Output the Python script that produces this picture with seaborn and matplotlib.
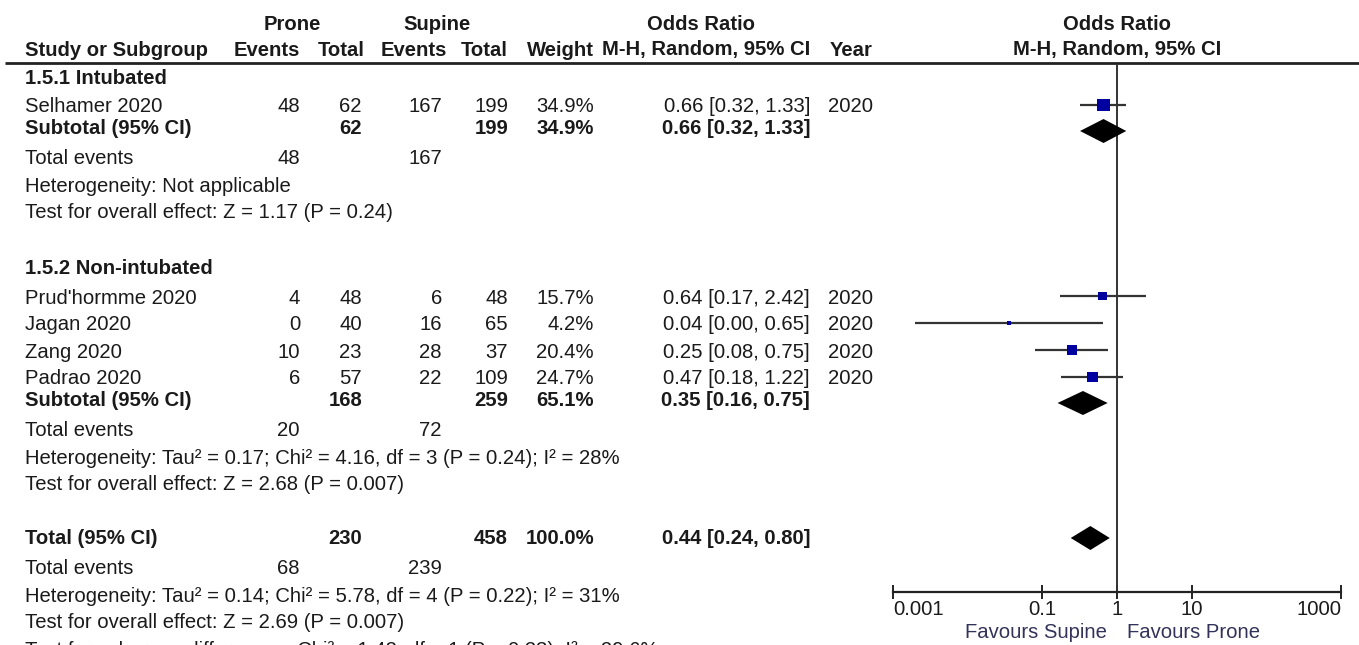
import matplotlib
matplotlib.use("Agg")
import matplotlib.pyplot as plt
import numpy as np
import pandas as pd
import seaborn as sns

# ---------------- data ----------------
studies = ["Selhamer 2020", "Prud'hormme 2020", "Jagan 2020", "Zang 2020", "Padrao 2020"]
study_group = [0, 1, 1, 1, 1]
prone_events = [48, 4, 0, 10, 6]
prone_total = [62, 48, 40, 23, 57]
supine_events = [167, 6, 16, 28, 22]
supine_total = [199, 48, 65, 37, 109]
weights = [34.9, 15.7, 4.2, 20.4, 24.7]
odds_ratio = [0.66, 0.64, 0.036, 0.25, 0.47]
ci_low = [0.32, 0.17, 0.002, 0.08, 0.18]
ci_high = [1.33, 2.42, 0.65, 0.75, 1.22]
years = [2020, 2020, 2020, 2020, 2020]

group_names = ["1.5.1 Intubated", "1.5.2 Non-intubated"]
group_prone_total = [62, 168]
group_supine_total = [199, 259]
group_prone_events = [48, 20]
group_supine_events = [167, 72]
group_weight = [34.9, 65.1]
group_or = [0.66, 0.35]
group_low = [0.32, 0.16]
group_high = [1.33, 0.75]
group_het = ["Heterogeneity: Not applicable",
             "Heterogeneity: Tau\u00b2 = 0.17; Chi\u00b2 = 4.16, df = 3 (P = 0.24); I\u00b2 = 28%"]
group_test = ["Test for overall effect: Z = 1.17 (P = 0.24)",
              "Test for overall effect: Z = 2.68 (P = 0.007)"]

total_prone_total = 230
total_supine_total = 458
total_prone_events = 68
total_supine_events = 239
total_weight = 100.0
total_or = 0.44
total_low = 0.24
total_high = 0.80
total_het = "Heterogeneity: Tau\u00b2 = 0.14; Chi\u00b2 = 5.78, df = 4 (P = 0.22); I\u00b2 = 31%"
total_test = "Test for overall effect: Z = 2.69 (P = 0.007)"
subgroup_test = "Test for subgroup differences: Chi\u00b2 = 1.42, df = 1 (P = 0.23), I\u00b2 = 29.6%"

axis_ticks = [0.001, 0.1, 1, 10, 1000]
axis_labels = ["0.001", "0.1", "1", "10", "1000"]
favours_left = "Favours Supine"
favours_right = "Favours Prone"

# ---------------- style ----------------
sns.set_theme(style="white")
plt.rcParams["font.family"] = ["Liberation Sans", "DejaVu Sans"]
FS = 14.6
TXT = "#1a1a1a"
SQ = "#0000a0"
LINE = "#333333"

W, H = 1359, 645
fig = plt.figure(figsize=(W / 100, H / 100), dpi=100)
ax = fig.add_axes([0, 0, 1, 1])
ax.set_xlim(0, W)
ax.set_ylim(H, 0)
ax.axis("off")

# column right edges (layout)
X_NAME = 25
X_PE, X_PT, X_SE, X_ST, X_W, X_OR, X_YR = 300, 362, 442, 508, 594, 810, 828

def t(x, y, s, ha="left", bold=False, color=TXT, **kw):
    ax.text(x, y, s, ha=ha, va="center", fontsize=FS, color=color,
            fontweight="bold" if bold else "normal", **kw)

# header
t(292, 24, "Prone", ha="center", bold=True)
t(437, 24, "Supine", ha="center", bold=True)
t(701, 24, "Odds Ratio", ha="center", bold=True)
t(X_NAME, 50, "Study or Subgroup", bold=True)
t(X_PE, 50, "Events", ha="right", bold=True)
t(X_PT + 3, 50, "Total", ha="right", bold=True)
t(X_SE + 5, 50, "Events", ha="right", bold=True)
t(X_ST, 50, "Total", ha="right", bold=True)
t(X_W, 50, "Weight", ha="right", bold=True)
t(X_OR, 50, "M-H, Random, 95% CI", ha="right", bold=True)
t(X_YR + 2, 50, "Year", bold=True)
t(1117, 24, "Odds Ratio", ha="center", bold=True)
t(1117, 50, "M-H, Random, 95% CI", ha="center", bold=True)
ax.hlines(63, 5, W, color="#222222", lw=2.0)

def fmt_ci(o, lo, hi):
    return f"{o:.2f} [{lo:.2f}, {hi:.2f}]"

# row layout
group_header_y = [79, 268]
study_rows_start = [107, 298]
row_step = 27
sub_gap = 22

study_y = []
summary_y = []
for g in range(len(group_names)):
    idx = [i for i, gg in enumerate(study_group) if gg == g]
    y0 = group_header_y[g]
    t(X_NAME, y0, group_names[g], bold=True)
    y = study_rows_start[g]
    for i in idx:
        t(X_NAME, y, studies[i])
        t(X_PE, y, str(prone_events[i]), ha="right")
        t(X_PT, y, str(prone_total[i]), ha="right")
        t(X_SE, y, str(supine_events[i]), ha="right")
        t(X_ST, y, str(supine_total[i]), ha="right")
        t(X_W, y, f"{weights[i]:.1f}%", ha="right")
        t(X_OR, y, fmt_ci(odds_ratio[i], ci_low[i], ci_high[i]), ha="right")
        t(X_YR, y, str(years[i]))
        study_y.append(y)
        y += row_step
    y = y - row_step + sub_gap
    summary_y.append(y + 2)
    t(X_NAME, y, "Subtotal (95% CI)", bold=True)
    t(X_PT, y, str(group_prone_total[g]), ha="right", bold=True)
    t(X_ST, y, str(group_supine_total[g]), ha="right", bold=True)
    t(X_W, y, f"{group_weight[g]:.1f}%", ha="right", bold=True)
    t(X_OR, y, fmt_ci(group_or[g], group_low[g], group_high[g]), ha="right", bold=True)
    y += 30
    t(X_NAME, y, "Total events")
    t(X_PE, y, str(group_prone_events[g]), ha="right")
    t(X_SE, y, str(group_supine_events[g]), ha="right")
    y += row_step
    t(X_NAME, y, group_het[g])
    y += row_step
    t(X_NAME, y, group_test[g])

# overall
yT = 539
summary_y.append(yT - 1)
t(X_NAME, yT, "Total (95% CI)", bold=True)
t(X_PT, yT, str(total_prone_total), ha="right", bold=True)
t(X_ST, yT, str(total_supine_total), ha="right", bold=True)
t(X_W, yT, f"{total_weight:.1f}%", ha="right", bold=True)
t(X_OR, yT, fmt_ci(total_or, total_low, total_high), ha="right", bold=True)
t(X_NAME, yT + 30, "Total events")
t(X_PE, yT + 30, str(total_prone_events), ha="right")
t(X_SE, yT + 30, str(total_supine_events), ha="right")
t(X_NAME, yT + 57, total_het)
t(X_NAME, yT + 84, total_test)
t(X_NAME, yT + 112, subgroup_test)

# ---------------- forest plot ----------------
x0, x1 = 893, 1341
fx = fig.add_axes([x0 / W, 0, (x1 - x0) / W, 1])
fx.patch.set_alpha(0)
fx.set_xscale("log")
fx.set_xlim(axis_ticks[0], axis_ticks[-1])
fx.set_ylim(H, 0)
AXIS_Y = 592
fx.vlines(1, 64, AXIS_Y, color=LINE, lw=1.4, zorder=1)

df = pd.DataFrame({"or": odds_ratio, "lo": ci_low, "hi": ci_high,
                   "w": weights, "y": [v - 2 for v in study_y]})
fx.hlines(df["y"], df["lo"], df["hi"], color=LINE, lw=1.6, zorder=2)
sns.scatterplot(data=df, x="or", y="y", size="w", sizes=(0, 230), size_norm=(0, 100),
                marker="s", color=SQ, edgecolor=SQ, linewidth=0, legend=False,
                ax=fx, zorder=3)

sum_or = group_or + [total_or]
sum_lo = group_low + [total_low]
sum_hi = group_high + [total_high]
for o, lo, hi, y in zip(sum_or, sum_lo, sum_hi, summary_y):
    fx.fill([lo, o, hi, o], [y, y - 12, y, y + 12], color="black", lw=0, zorder=3)

for s in ["left", "right", "top"]:
    fx.spines[s].set_visible(False)
fx.spines["bottom"].set_position(("data", AXIS_Y))
fx.spines["bottom"].set_color("#222222")
fx.spines["bottom"].set_linewidth(1.6)
fx.set_yticks([])
fx.minorticks_off()
fx.set_xticks(axis_ticks)
fx.set_xticklabels(axis_labels)
fx.tick_params(axis="x", which="major", direction="inout", length=10, width=1.4,
               color="#222222", labelsize=FS, labelcolor=TXT, pad=1, bottom=True)
labs = fx.get_xticklabels()
labs[0].set_horizontalalignment("left")
labs[-1].set_horizontalalignment("right")
fx.set_xlabel("")
fx.set_ylabel("")

ax.text(1107, 633, favours_left, ha="right", va="center", fontsize=FS, color="#33335a")
ax.text(1127, 633, favours_right, ha="left", va="center", fontsize=FS, color="#33335a")

fig.savefig("out.png", dpi=100)
